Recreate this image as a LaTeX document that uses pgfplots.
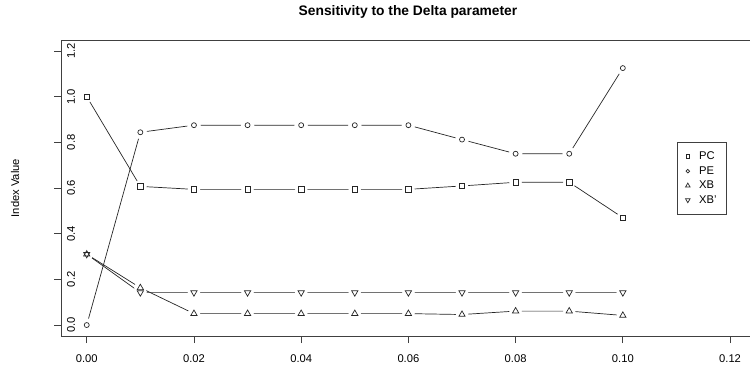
\documentclass[border=0pt]{standalone}
\usepackage{pgfplots}
\usepackage{pgfplotstable}
\pgfplotsset{compat=1.18}
\usepackage{fontspec}
\setmainfont{Liberation Sans}
\pgfplotstableread{
x     pc     pe     xb     xbp
0.00  1.000  0.000  0.310  0.310
0.01  0.607  0.844  0.163  0.142
0.02  0.594  0.875  0.050  0.142
0.03  0.594  0.875  0.050  0.142
0.04  0.594  0.875  0.050  0.142
0.05  0.594  0.875  0.050  0.142
0.06  0.594  0.875  0.050  0.142
0.07  0.609  0.812  0.046  0.142
0.08  0.625  0.750  0.061  0.142
0.09  0.625  0.750  0.061  0.142
0.10  0.470  1.125  0.042  0.142
}\data
\begin{document}
\begin{tikzpicture}
\useasboundingbox (0,0) rectangle (750bp,369bp);
\node[font=\bfseries\fontsize{13.8bp}{15bp}\selectfont] at (408bp,357bp) {Sensitivity to the Delta parameter};
\node[rotate=90,font=\fontsize{11.2bp}{13bp}\selectfont] at (15bp,181bp) {Index Value};
\begin{axis}[
  at={(61bp,33bp)}, anchor=south west,
  scale only axis, width=690.5bp, height=296bp,
  xmin=-0.0048, xmax=0.124, ymin=-0.048, ymax=1.248,
  axis line style={black!75, line width=0.7bp},
  xtick={0,0.02,0.04,0.06,0.08,0.10,0.12},
  xticklabels={0.00,0.02,0.04,0.06,0.08,0.10,0.12},
  ytick={0,0.2,0.4,0.6,0.8,1.0,1.2},
  yticklabels={0.0,0.2,0.4,0.6,0.8,1.0,1.2},
  tick align=outside, xtick pos=bottom, ytick pos=left,
  major tick length=7bp,
  tick style={black!75, line width=0.7bp},
  ticklabel style={font=\fontsize{11.2bp}{13bp}\selectfont},
  yticklabel style={anchor=center, inner sep=0pt, xshift=17bp, rotate=90},
  xticklabel style={anchor=north, inner sep=0pt, yshift=-11.5bp},
  legend cell align=left,
  legend image code/.code={\draw[#1, every mark/.append style={scale=0.72}] plot coordinates {(0bp,0bp)};},
  legend style={at={(0.8917,0.6544)}, anchor=north west, draw=black!75, line width=0.7bp,
    font=\fontsize{11.2bp}{13bp}\selectfont, inner xsep=8.5bp, inner ysep=8bp,
    row sep=2.5bp, column sep=8bp,
    nodes={inner sep=1bp, text height=8bp, text depth=2bp}},
]
\addplot[black!85, line width=0.7bp, forget plot] table[x=x,y=pc] {\data};
\addplot[black!85, line width=0.7bp, forget plot] table[x=x,y=pe] {\data};
\addplot[black!85, line width=0.7bp, forget plot] table[x=x,y=xb] {\data};
\addplot[black!85, line width=0.7bp, forget plot] table[x=x,y=xbp] {\data};
\addplot[white, only marks, mark=*, mark size=6bp, mark options={draw=white, fill=white}, forget plot] table[x=x,y=pc] {\data};
\addplot[white, only marks, mark=*, mark size=6.5bp, mark options={draw=white, fill=white}, forget plot] table[x=x,y=pe] {\data};
\addplot[white, only marks, mark=*, mark size=6bp, mark options={draw=white, fill=white}, forget plot] table[x=x,y=xb] {\data};
\addplot[white, only marks, mark=*, mark size=6bp, mark options={draw=white, fill=white}, forget plot] table[x=x,y=xbp] {\data};
\addplot[black!85, only marks, mark=square, mark size=2.7bp, mark options={black!85, line width=0.7bp}] table[x=x,y=pc] {\data};
\addlegendentry{PC}
\addplot[black!85, only marks, mark=o, mark size=2.5bp, mark options={black!85, line width=0.7bp}] table[x=x,y=pe] {\data};
\addlegendentry{PE}
\addplot[black!85, only marks, mark=triangle, mark size=3.6bp, mark options={black!85, line width=0.7bp}] table[x=x,y=xb] {\data};
\addlegendentry{XB}
\addplot[black!85, only marks, mark=triangle, mark size=3.6bp, mark options={black!85, line width=0.7bp, rotate=180}] table[x=x,y=xbp] {\data};
\addlegendentry{XB'}
\end{axis}
\end{tikzpicture}
\end{document}
